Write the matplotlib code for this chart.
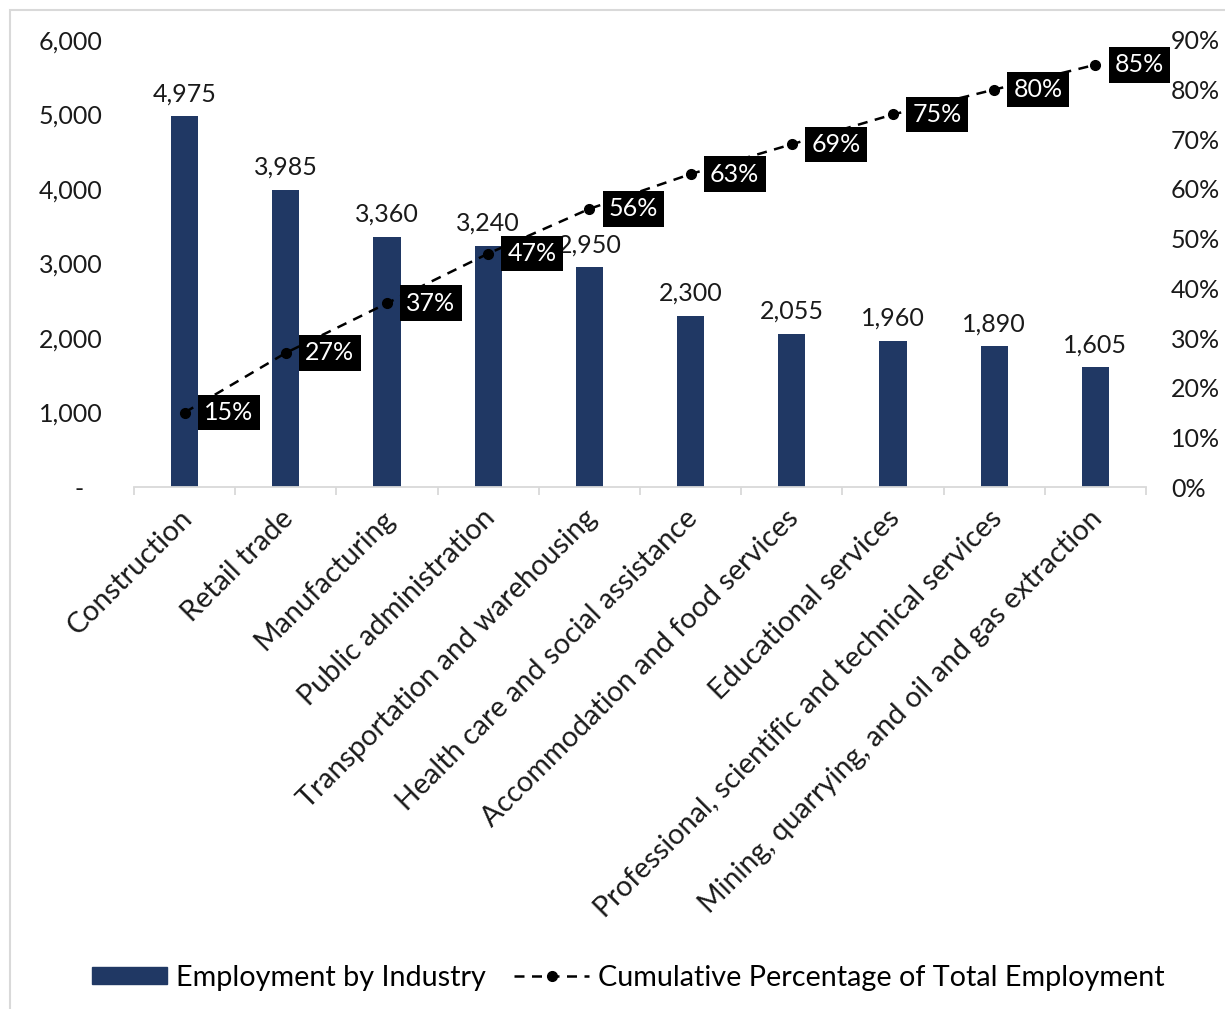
import matplotlib
matplotlib.use("Agg")
import matplotlib.pyplot as plt
from matplotlib.patches import Rectangle
from matplotlib.lines import Line2D
from matplotlib.ticker import FuncFormatter, MultipleLocator

plt.rcParams['font.family'] = ['Lato', 'DejaVu Sans']

industries = [
    "Construction",
    "Retail trade",
    "Manufacturing",
    "Public administration",
    "Transportation and warehousing",
    "Health care and social assistance",
    "Accommodation and food services",
    "Educational services",
    "Professional, scientific and technical services",
    "Mining, quarrying, and oil and gas extraction",
]
employment = [4975, 3985, 3360, 3240, 2950, 2300, 2055, 1960, 1890, 1605]
cumulative_pct = [15, 27, 37, 47, 56, 63, 69, 75, 80, 85]

bar_color = "#203864"
axis_gray = "#d9d9d9"
text_color = "#1a1a1a"
fs = 18          # numbers
fs_text = 20.7   # category names and legend

fig = plt.figure(figsize=(12.25, 10.09), dpi=100)
ax = fig.add_axes([0.1094, 0.5173, 0.8261, 0.4431])
ax2 = ax.twinx()

x = list(range(len(industries)))
ax.bar(x, employment, width=0.27, color=bar_color, zorder=2)
ax.set_xlim(-0.5, len(industries) - 0.5)
ax.set_ylim(0, 6000)
ax.yaxis.set_major_locator(MultipleLocator(1000))
ax.yaxis.set_major_formatter(FuncFormatter(lambda v, p: "-   " if v == 0 else f"{v:,.0f}"))

for xi, v in zip(x, employment):
    ax.annotate(f"{v:,}", (xi, v), xytext=(0, 8), textcoords="offset points",
                ha="center", va="bottom", fontsize=fs, color=text_color)

# category ticks sit on the boundaries between bars
ax.set_xticks([i - 0.5 for i in range(len(industries) + 1)])
ax.set_xticklabels([])
ax.tick_params(axis="x", length=6, width=1.3, color=axis_gray, direction="out")
ax.tick_params(axis="y", length=0, labelsize=fs, pad=22.5, labelcolor=text_color)
for side in ("top", "right", "left"):
    ax.spines[side].set_visible(False)
    ax2.spines[side].set_visible(False)
ax.spines["bottom"].set_color(axis_gray)
ax.spines["bottom"].set_linewidth(1.3)
ax2.spines["bottom"].set_visible(False)

for xi, name in zip(x, industries):
    ax.text(xi - 0.06, -0.04, name, transform=ax.get_xaxis_transform(),
            rotation=45, ha="right", va="top", rotation_mode="anchor",
            fontsize=fs_text, color=text_color)

ax2.set_ylim(0, 90)
ax2.yaxis.set_major_locator(MultipleLocator(10))
ax2.yaxis.set_major_formatter(FuncFormatter(lambda v, p: f"{v:.0f}%"))
ax2.tick_params(axis="y", length=0, labelsize=fs, pad=18, labelcolor=text_color)
ax2.plot(x, cumulative_pct, color="black", linestyle=(0, (4, 3)), linewidth=1.8,
         marker="o", markersize=7, zorder=3)
for xi, p in zip(x, cumulative_pct):
    ax2.annotate(f"{p}%", (xi, p), xytext=(14, 0), textcoords="offset points",
                 ha="left", va="center", fontsize=fs, color="white", zorder=4,
                 bbox=dict(boxstyle="square,pad=0.25", fc="black", ec="none"))

handles = [
    Rectangle((0, 0), 1, 1, color=bar_color),
    Line2D([0], [0], color="black", linestyle=(0, (4, 3)), linewidth=1.8,
           marker="o", markersize=7),
]
fig.legend(handles, ["Employment by Industry", "Cumulative Percentage of Total Employment"],
           loc="center", bbox_to_anchor=(0.513, 0.031), ncol=2, frameon=False,
           fontsize=fs_text, handlelength=2.6, handleheight=0.55, columnspacing=1.0,
           handletextpad=0.3)

fig.patches.append(Rectangle((10 / 1225, -0.01), 1.02, 1 - 10 / 1009 + 0.01,
                             transform=fig.transFigure, fill=False,
                             ec=axis_gray, lw=1.5, zorder=0))

fig.savefig("out.png", dpi=100)
